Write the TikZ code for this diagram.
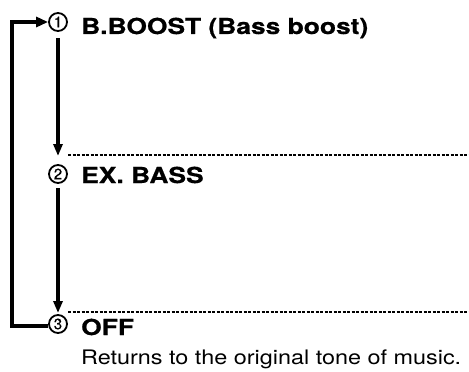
\documentclass[tikz,border=0pt]{standalone}
\usepackage{fontspec}
\setmainfont{TeX Gyre Heros}
\newfontfamily\headfont[FakeStretch=1.2,FakeBold=0.6]{TeX Gyre Heros Bold}
\newfontfamily\bodyfont[FakeStretch=1.17]{TeX Gyre Heros}
\newfontfamily\numfont[FakeBold=0.5]{TeX Gyre Heros}
\usetikzlibrary{arrows.meta}
\begin{document}
\begin{tikzpicture}[x=1pt,y=-1pt,
  num/.style={circle,draw,line width=1.8pt,inner sep=0pt,minimum size=18pt,font=\fontsize{15}{15}\numfont},
  head/.style={anchor=base west,inner sep=0pt,font=\fontsize{22}{22}\headfont},
  body/.style={anchor=base west,inner sep=0pt,font=\fontsize{20}{20}\bodyfont},
  sep/.style={line width=1.3pt,dash pattern=on 3pt off 1.5pt},
  flow/.style={line width=3.2pt,-{Triangle[length=12pt,width=9pt]}},
  loop/.style={line width=4pt,-{Triangle[length=12pt,width=10pt]}}]
\useasboundingbox (0,0) rectangle (469,372);
\node[num] (c1) at (58,22) {1};
\node[head] (t1) at (81,34) {B.BOOST (Bass boost)};
\node[num] (c2) at (58,174) {2};
\node[head] (t2) at (81,183) {EX. BASS};
\node[num] (c3) at (58,324) {3};
\node[head] (t3) at (81,335) {OFF};
\node[body] (t4) at (81,364) {Returns to the original tone of music.};
\coordinate (d1a) at (68,155);
\coordinate (d1b) at (469,155);
\coordinate (d2a) at (68,312);
\coordinate (d2b) at (469,312);
\coordinate (a1) at (58,156);
\coordinate (a2) at (58,313);
\coordinate (b1) at (58,38);
\coordinate (b2) at (58,188);
\coordinate (l1) at (12,22);
\coordinate (l2) at (12,326);
\coordinate (l3) at (48,326);
\draw[sep] (d1a) -- (d1b);
\draw[sep] (d2a) -- (d2b);
\draw[flow] (b1) -- (a1);
\draw[flow] (b2) -- (a2);
\draw[loop] (l3) -- (l2) -- (l1) -- (c1.west);
\end{tikzpicture}
\end{document}
